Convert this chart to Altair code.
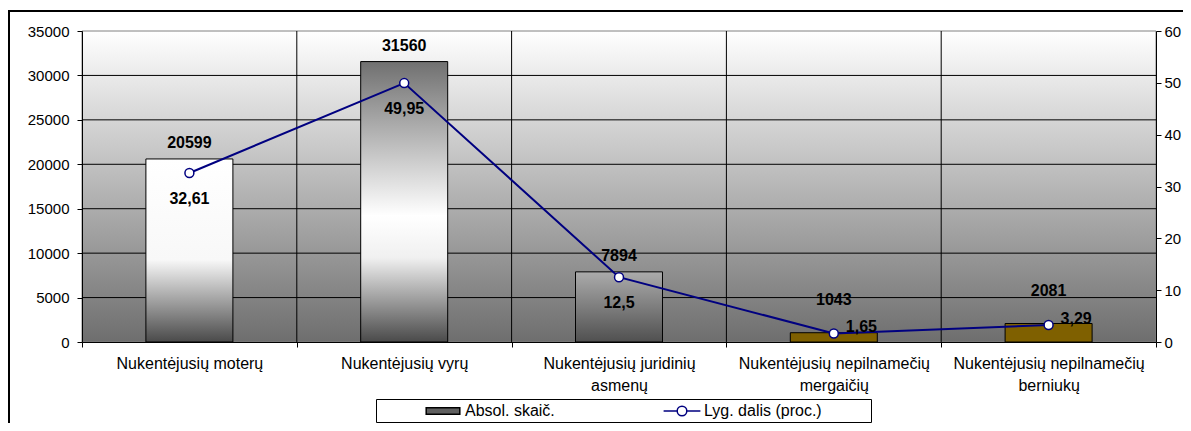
import altair as alt
import pandas as pd

# ---- data ----
categories = [
    "Nukentėjusių moterų",
    "Nukentėjusių vyrų",
    "Nukentėjusių juridinių\nasmenų",
    "Nukentėjusių nepilnamečių\nmergaičių",
    "Nukentėjusių nepilnamečių\nberniukų",
]
absolute = [20599, 31560, 7894, 1043, 2081]
percent = [32.61, 49.95, 12.5, 1.65, 3.29]
percent_labels = ["32,61", "49,95", "12,5", "1,65", "3,29"]
left_ticks = [0, 5000, 10000, 15000, 20000, 25000, 30000, 35000]
right_ticks = [0, 10, 20, 30, 40, 50, 60]
series = ["Absol. skaič.", "Lyg. dalis (proc.)"]

df = pd.DataFrame({
    "cat": categories,
    "abs": absolute,
    "pct": percent,
    "pct_label": percent_labels,
    "idx": list(range(len(categories))),
})
ticks_df = pd.DataFrame({"t": left_ticks})
sep_df = pd.DataFrame({"cat": categories[1:]})
one_row = alt.Data(values=[{"k": 1}])

W, H = 1074, 311
FONT = "Liberation Sans"
NAVY = "#000080"


def grad(stops):
    return {"gradient": "linear", "x1": 0, "y1": 0, "x2": 0, "y2": 1,
            "stops": [{"offset": o, "color": c} for o, c in stops]}


xscale = alt.Scale(domain=categories, paddingInner=0, paddingOuter=0)
yabs = alt.Scale(domain=[0, 35000], nice=False)
ypct = alt.Scale(domain=[0, 60], nice=False)

x_axis = alt.Axis(title=None, tickBand="extent", tickSize=5, tickColor="black",
                  domainColor="black", labelFont=FONT, labelFontSize=16,
                  labelColor="black", labelPadding=8, labelLineHeight=22,
                  labelAngle=0, labelLimit=400, labelOverlap=False,
                  labelExpr="split(datum.label, '\\n')", zindex=1, grid=False)
left_axis = alt.Axis(title=None, values=left_ticks, format="d", grid=False,
                     tickSize=5, tickColor="black", domainColor="black",
                     labelFont=FONT, labelFontSize=15, labelColor="black",
                     labelPadding=8, zindex=1, orient="left")
right_axis = alt.Axis(title=None, values=right_ticks, format="d", grid=False,
                      tickSize=5, tickColor="black", domainColor="black",
                      labelFont=FONT, labelFontSize=15, labelColor="black",
                      labelPadding=3, zindex=1, orient="right")

X = alt.X("cat:N", sort=categories, scale=xscale, axis=x_axis)
YA = alt.Y("abs:Q", scale=yabs, axis=left_axis)
YP = alt.Y("pct:Q", scale=ypct, axis=right_axis)

# ---- frame & background ----
frame = alt.Chart(one_row).mark_rect(fillOpacity=0, stroke="black", strokeWidth=2).encode(
    x=alt.value(-73), x2=alt.value(1400), y=alt.value(-20), y2=alt.value(700))
bg = alt.Chart(one_row).mark_rect(
    fill=grad([(0, "#ffffff"), (1, "#6e6e6e")]), stroke="#808080", strokeWidth=1
).encode(x=alt.value(0), x2=alt.value(W), y=alt.value(0), y2=alt.value(H))

grid_rules = alt.Chart(ticks_df).transform_filter(
    "datum.t > 0 && datum.t < 35000").mark_rule(color="black", strokeWidth=1).encode(
    y=alt.Y("t:Q", scale=yabs, axis=left_axis))
vsep = alt.Chart(sep_df).mark_rule(color="black", strokeWidth=1).encode(
    x=alt.X("cat:N", sort=categories, scale=xscale, bandPosition=0, axis=x_axis))

bar_fills = [
    grad([(0, "#ffffff"), (0.55, "#f8f8f8"), (1, "#4a4a4a")]),
    grad([(0, "#707070"), (0.55, "#ffffff"), (0.7, "#f0f0f0"), (1, "#4a4a4a")]),
    grad([(0, "#ababab"), (1, "#505050")]),
]
bar_layers = []
for i, f in enumerate(bar_fills):
    bar_layers.append(
        alt.Chart(df).transform_filter(f"datum.idx == {i}").mark_bar(
            width=alt.RelativeBandSize(0.405), fill=f, stroke="black", strokeWidth=1
        ).encode(x=X, y=YA))
bar_layers.append(
    alt.Chart(df).transform_filter("datum.idx >= 3").mark_bar(
        width=alt.RelativeBandSize(0.405), fill="#7f6000", stroke="black", strokeWidth=1
    ).encode(x=X, y=YA))

lab_hi = alt.Chart(df).transform_filter("datum.abs >= 5000").mark_text(
    font=FONT, fontSize=16, fontWeight="bold", color="black", baseline="middle", dy=-16
).encode(x=X, y=YA, text=alt.Text("abs:Q", format="d"))
lab_lo = alt.Chart(df).transform_filter("datum.abs < 5000").mark_text(
    font=FONT, fontSize=16, fontWeight="bold", color="black", baseline="middle", dy=-33
).encode(x=X, y=YA, text=alt.Text("abs:Q", format="d"))

bars_group = alt.layer(frame, bg, grid_rules, vsep, *bar_layers, lab_hi, lab_lo)

# ---- line series ----
line = alt.Chart(df).mark_line(color=NAVY, strokeWidth=2).encode(x=X, y=YP)
pts = alt.Chart(df).mark_point(shape="circle", filled=True, fill="white", stroke=NAVY,
                               strokeWidth=1.5, size=80, opacity=1).encode(x=X, y=YP)
plab1 = alt.Chart(df).transform_filter("datum.idx < 3").mark_text(
    font=FONT, fontSize=16, fontWeight="bold", color="black", baseline="middle", dy=26
).encode(x=X, y=YP, text="pct_label:N")
plab2 = alt.Chart(df).transform_filter("datum.idx >= 3").mark_text(
    font=FONT, fontSize=16, fontWeight="bold", color="black", baseline="middle",
    align="left", dx=12, dy=-6
).encode(x=X, y=YP, text="pct_label:N")

rect_path = "M-2.1,-0.4H2.1V0.4H-2.1Z"
line_path = "M-2.3,0H-0.6A0.6,0.6 0 1,1 0.6,0A0.6,0.6 0 1,1 -0.6,0M0.6,0H2.3"
legend_layer = alt.Chart(alt.Data(values=[{"s": s} for s in series])).transform_filter(
    "false").mark_point(filled=True, strokeWidth=1.5, opacity=1).encode(
    shape=alt.Shape("s:N", scale=alt.Scale(domain=series, range=[rect_path, line_path]),
                    legend=alt.Legend(
                        title=None, orient="none", legendX=294, legendY=368,
                        direction="horizontal", symbolSize=256, symbolStrokeWidth=1.5,
                        labelFont=FONT, labelFontSize=16, labelColor="black",
                        labelOffset=13, symbolOffset=55, padding=3,
                        strokeColor="black", fillColor="white", columnPadding=63,
                        labelLimit=400,
                        labelExpr="datum.label == 'Lyg. dalis (proc.)' ? datum.label + '\u2003\u2003\u2002\u2009\u2006\u2060' : datum.label")),
    fill=alt.Fill("s:N", scale=alt.Scale(domain=series, range=["#606060", "#ffffff"])),
    stroke=alt.Stroke("s:N", scale=alt.Scale(domain=series, range=["#000000", NAVY])),
)

line_group = alt.layer(line, pts, plab1, plab2, legend_layer)

chart = alt.layer(bars_group, line_group).resolve_scale(y="independent").properties(
    width=W, height=H,
    padding={"left": 74, "top": 23, "right": 27, "bottom": 81},
    autosize=alt.AutoSizeParams(type="none"),
    background="white",
).configure_view(strokeWidth=0)

chart.save("out.html", embed_options={"renderer": "svg", "actions": False})
